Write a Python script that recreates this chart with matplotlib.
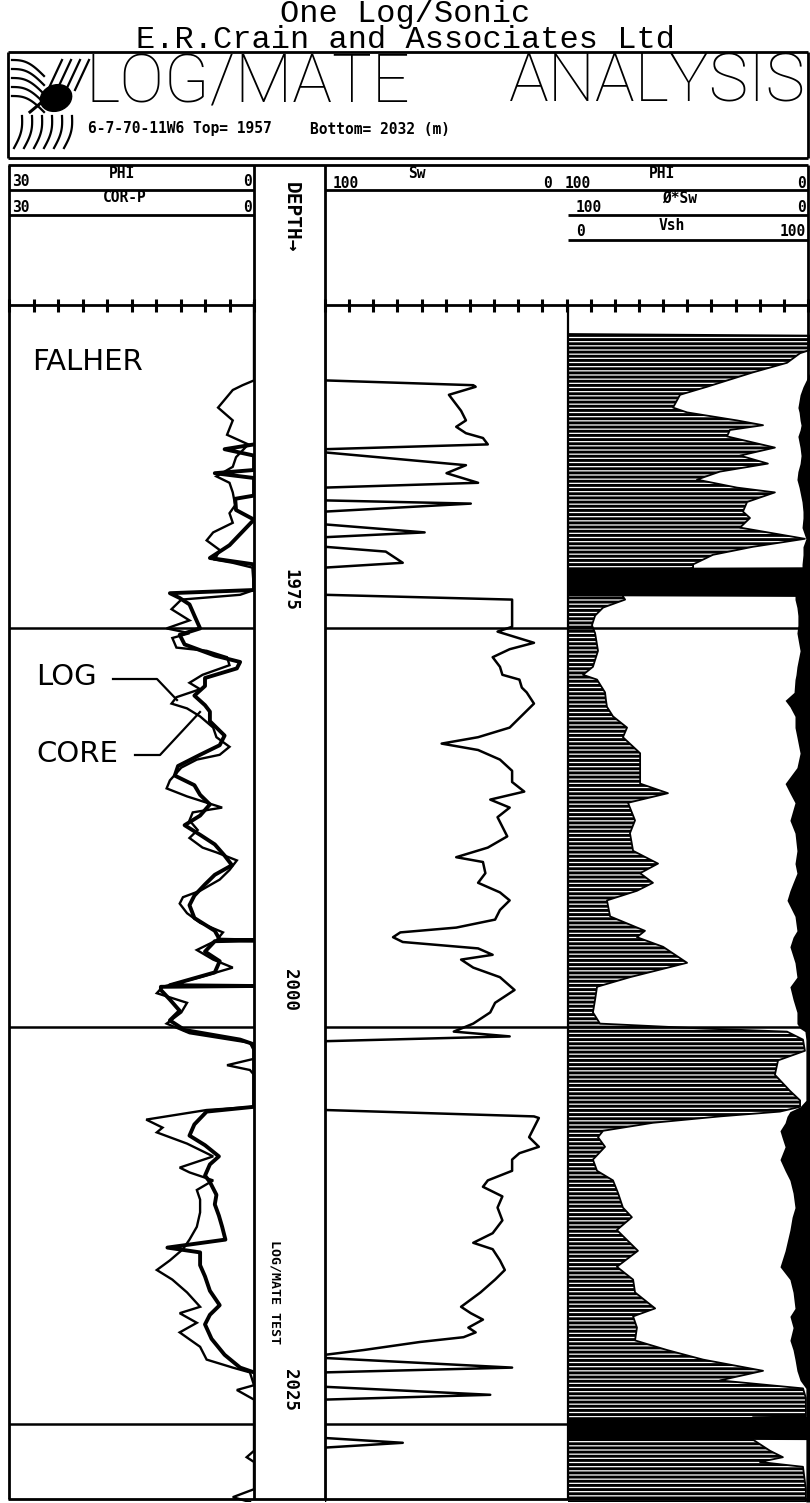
"""LOG/MATE analysis sheet: porosity, water saturation and volume tracks."""

import matplotlib

matplotlib.use("Agg")
import matplotlib.pyplot as plt
import numpy as np
from matplotlib.patches import Ellipse

W, H = 810, 1503
TOP_DEPTH, BOTTOM_DEPTH = 1957, 2032
Y_TOP, Y_BOT = 302, 1502          # pixel rows of the depth window

# ---- data --------------------------------------------------------------
depth_labels = [1975, 2000, 2025]
zone_tops = [1977.4, 2002.3, 2027.1]

# track 2: water saturation (%), 100 at left
sw_depth = [1957.0, 1961.9, 1962.2, 1962.3, 1962.8, 1963.8, 1964.4, 1964.8, 1965.2, 1965.5,
            1965.9, 1966.2, 1966.4, 1967.2, 1967.7, 1968.3, 1968.6, 1969.4, 1969.6, 1970.1,
            1970.9, 1971.4, 1971.7, 1972.3, 1972.6, 1973.3, 1973.6, 1975.3, 1975.6, 1977.3,
            1977.6, 1978.3, 1978.7, 1979.2, 1979.8, 1980.3, 1980.6, 1981.1, 1981.4, 1982.1,
            1982.7, 1983.6, 1984.2, 1984.6, 1985.0, 1985.6, 1986.3, 1987.0, 1987.6, 1988.1,
            1988.6, 1989.2, 1989.8, 1990.4, 1991.1, 1991.7, 1992.0, 1992.7, 1993.3, 1993.9,
            1994.4, 1995.0, 1995.6, 1996.1, 1996.4, 1996.7, 1997.0, 1997.4, 1997.8, 1998.1,
            1998.6, 1999.2, 2000.0, 2000.8, 2001.4, 2002.1, 2002.6, 2002.9, 2003.2,
            2007.5, 2007.9, 2008.0, 2008.6, 2009.2, 2009.8, 2010.2, 2010.6, 2011.3, 2011.9,
            2012.3, 2012.9, 2013.6, 2014.4, 2015.2, 2015.8, 2016.2, 2016.9, 2017.5, 2018.1,
            2018.9, 2019.8, 2020.2, 2020.6, 2021.1, 2021.4, 2021.7, 2022.0, 2022.5, 2022.8,
            2023.0, 2023.6, 2023.9, 2024.8, 2025.3, 2025.6, 2028.0, 2028.3, 2028.6, 2032.0]
sw_values = [100, 100, 39, 38, 49, 44, 42, 46, 42, 35,
             33, 100, 100, 42, 50, 37, 100, 100, 40, 100,
             100, 59, 100, 100, 75, 68, 100, 100, 23, 23,
             29, 14, 24, 31, 28, 27, 20, 19, 17, 14,
             18, 24, 37, 52, 37, 28, 23, 23, 18, 32,
             24, 29, 27, 25, 33, 46, 35, 34, 37, 28,
             24, 28, 30, 46, 69, 72, 68, 37, 31, 44,
             39, 28, 22, 30, 32, 39, 47, 24, 100,
             100, 14, 12, 14, 16, 12, 20, 23, 23, 33,
             35, 27, 29, 27, 31, 39, 31, 28, 26, 30,
             36, 44, 40, 35, 41, 38, 43, 61, 84, 100,
             100, 23, 100, 100, 32, 100, 100, 68, 100, 100]

# track 1: log porosity (%), 30 at left
phi_depth = [1957.0, 1961.9, 1962.2, 1962.5, 1963.6, 1964.4, 1965.3, 1965.9, 1966.7, 1967.3,
             1967.9, 1968.3, 1968.9, 1969.7, 1970.2, 1970.8, 1971.4, 1971.9, 1972.5, 1973.1,
             1973.3, 1973.6, 1975.0, 1975.3, 1975.6, 1976.2, 1976.9, 1977.4,
             1977.7, 1978.0, 1978.6, 1978.8, 1979.2, 1979.7, 1980.3, 1980.8, 1981.2, 1981.7,
             1982.1, 1982.4, 1982.9, 1983.6, 1984.2, 1984.8, 1985.3, 1985.6, 1986.1, 1986.9,
             1987.4, 1987.9, 1988.6, 1988.9, 1989.4, 1990.0, 1990.5, 1991.1, 1991.4, 1991.9,
             1992.5, 1993.1, 1993.8, 1994.2, 1994.6, 1995.2, 1995.8, 1996.4, 1996.9, 1997.5,
             1998.1, 1998.6, 1999.2, 1999.8, 2000.2, 2000.8, 2001.4, 2002.1, 2002.7, 2003.3,
             2003.8,
             2004.3, 2004.7, 2005.0, 2005.3, 2007.3, 2007.5, 2008.1, 2008.6, 2008.9, 2009.6,
             2010.0, 2010.4, 2011.1, 2011.4, 2011.9, 2012.5, 2013.1, 2013.9, 2014.8, 2015.6,
             2016.2, 2016.9, 2017.5, 2018.1, 2018.9, 2019.8, 2020.2, 2020.8, 2021.4, 2022.3,
             2023.1, 2023.6, 2023.9, 2024.7, 2025.0, 2025.6, 2028.8, 2029.2, 2029.5, 2031.2,
             2031.7, 2032.0]
phi_log = [0, 0, 1.4, 2.6, 4.4, 2.6, 3.3, 0.7, 2.2, 2.6,
           4.6, 3.0, 2.6, 2.3, 3.0, 2.6, 5.0, 5.8, 4.2, 4.8,
           2.6, 0.2, 0, 1.7, 8.9, 10.1, 7.9, 10.7,
           7.9, 10.0, 9.5, 5.8, 3.3, 3.0, 6.3, 7.9, 6.6, 9.5,
           10.1, 8.2, 6.6, 5.0, 4.6, 3.0, 4.2, 7.0, 8.9, 10.3,
           10.7, 8.2, 3.9, 7.5, 7.9, 6.9, 7.9, 6.3, 4.6, 2.1,
           3.0, 4.2, 6.6, 8.7, 9.1, 8.2, 6.6, 3.8, 4.6, 7.0,
           5.0, 2.6, 6.6, 11.2, 11.9, 8.2, 8.9, 10.7, 7.9, 0.5,
           0,
           0, 3.3, 0.5, 0, 0, 5.8, 13.2, 11.2, 11.9, 8.2,
           6.6, 5.0, 9.1, 7.9, 5.0, 7.0, 6.6, 6.6, 7.0, 7.9,
           8.7, 10.3, 11.9, 10.0, 8.2, 6.6, 9.1, 7.0, 9.1, 6.6,
           5.8, 2.6, 0.5, 0, 2.1, 0, 0, 0.9, 0, 0,
           2.6, 0.5]

# track 1: core porosity (%)
core_depth = [1965.9, 1966.2, 1966.6, 1967.5, 1967.7, 1968.0, 1969.1, 1969.3, 1970.0, 1970.6,
              1972.2, 1973.0, 1973.4, 1975.0, 1975.2, 1975.5, 1975.9, 1976.6, 1977.4,
              1977.8, 1978.4, 1979.1, 1979.5, 1979.9, 1980.5, 1981.0, 1981.6, 1982.2, 1982.6,
              1983.2, 1984.1, 1984.7, 1985.3, 1986.0, 1986.6, 1987.2, 1987.8, 1988.4, 1989.1,
              1989.7, 1990.3, 1990.9, 1991.6, 1992.2, 1992.8, 1993.4, 1994.1, 1994.7, 1995.5,
              1996.3, 1996.85, 1996.9, 1996.95, 1997.6, 1998.2, 1998.9, 1999.7, 1999.75, 1999.8,
              2000.0, 2000.6, 2001.3, 2001.9, 2002.5, 2003.1, 2003.4,
              2007.3, 2007.6, 2008.4, 2009.1, 2009.7, 2010.4, 2010.9, 2011.6, 2012.0, 2012.8,
              2013.4, 2014.1, 2014.8, 2015.6, 2016.1, 2016.4, 2017.2, 2017.9, 2018.8, 2019.7,
              2020.3, 2020.9, 2021.8, 2022.8, 2023.6, 2023.9]
core_phi = [0, 3.6, 0, 0, 4.8, 0, 0, 2.3, 2.2, 0,
            3.0, 5.4, 0, 0, 10.3, 9.1, 7.9, 7.3, 6.6,
            9.1, 8.5, 4.8, 1.7, 2.1, 6.0, 6.0, 7.3, 6.0, 5.4,
            5.4, 3.6, 4.2, 6.6, 9.3, 9.7, 7.3, 6.6, 5.4, 6.6,
            8.5, 6.6, 4.8, 3.6, 2.7, 4.8, 6.0, 7.3, 7.9, 7.3,
            4.8, 4.2, 0, 4.8, 6.0, 4.2, 4.8, 10.3, 0, 11.4,
            11.4, 10.3, 9.1, 10.3, 8.5, 1.7, 0,
            0, 5.8, 7.3, 7.9, 6.0, 4.3, 5.4, 6.0, 5.4, 4.6,
            4.8, 4.3, 3.9, 3.5, 10.6, 6.6, 6.6, 6.0, 5.4, 4.2,
            5.4, 6.0, 5.2, 3.6, 1.7, 0]

# track 3: hatched volume edge (100 at left) and shale width from the right (%)
t3_depth = [1957.0, 1959.0, 1959.1, 1960.0, 1960.2, 1960.8, 1961.4, 1962.3, 1962.8, 1963.6,
            1963.9, 1964.4, 1964.7, 1965.0, 1965.4, 1966.1, 1966.6, 1967.1, 1967.6, 1968.1,
            1968.6, 1968.9, 1969.5, 1970.1, 1970.5, 1971.1, 1971.8, 1972.3, 1972.8, 1973.4,
            1973.55, 1973.6, 1975.35, 1975.4, 1975.6, 1976.1, 1976.6, 1977.2, 1977.7, 1978.8,
            1979.8, 1980.3, 1980.6, 1981.4, 1981.9, 1982.3, 1982.9, 1983.6, 1984.2, 1985.2,
            1986.1, 1987.1, 1987.7, 1988.3, 1989.4, 1990.2, 1991.3, 1992.1, 1992.7, 1993.3,
            1993.8, 1994.4, 1995.4, 1996.3, 1996.7, 1997.3, 1998.3, 1999.2, 1999.8, 2000.6,
            2001.4, 2002.1, 2002.4, 2002.6, 2003.1, 2003.8, 2004.4, 2005.3, 2006.3, 2006.9,
            2007.3, 2007.6, 2007.9, 2008.3, 2008.8, 2009.2, 2009.8, 2010.6, 2011.3, 2011.9,
            2012.7, 2013.6, 2014.2, 2015.0, 2016.3, 2017.3, 2018.1, 2018.9, 2019.9, 2020.4,
            2021.1, 2021.9, 2022.5, 2023.1, 2023.8, 2024.4, 2024.9, 2025.5, 2026.65, 2026.7,
            2028.05, 2028.1, 2028.8, 2029.2, 2029.5, 2029.8, 2031.2, 2032.0]
t3_phi = [100, 100, 0, 0, 4.1, 9.5, 23.6, 42.6, 53.7, 56.6,
          50.8, 30.2, 19.4, 33.1, 34.3, 14.5, 28.9, 17.4, 37.2, 46.7,
          30.2, 14.5, 26.0, 27.7, 24.8, 28.9, 2.1, 23.6, 40.1, 48.3,
          48.3, 48.3, 77.3, 77.3, 76.4, 85.5, 88.8, 90.1, 88.8, 87.6,
          89.7, 93.8, 88.0, 84.7, 84.3, 83.9, 81.4, 75.6, 77.3, 70.2,
          70.2, 70.2, 58.7, 75.2, 72.3, 74.4, 73.1, 62.8, 70.2, 64.9,
          71.5, 83.9, 82.6, 68.2, 71.5, 60.7, 50.8, 74.4, 88.0, 88.8,
          89.7, 86.8, 45.5, 9.5, 2.9, 2.1, 13.2, 14.5, 8.3, 4.1,
          4.1, 12.4, 37.2, 64.9, 85.5, 87.6, 84.7, 89.7, 88.0, 81.4,
          79.3, 77.3, 73.6, 79.8, 71.1, 79.8, 73.1, 72.3, 64.0, 73.1,
          71.5, 72.3, 59.1, 44.2, 19.4, 37.2, 2.9, 1.7, 1.7, 23.6,
          23.6, 23.6, 16.5, 11.2, 20.7, 2.9, 1.7, 1.7]
t3_vsh = [0, 0, 0, 0, 0, 0, 0, 2.9, 4.1, 5.0,
          4.5, 4.1, 3.7, 4.1, 5.0, 4.1, 3.7, 4.1, 5.0, 5.4,
          4.5, 4.1, 3.3, 2.9, 2.9, 3.3, 1.7, 2.9, 2.9, 3.3,
          3.3, 100, 100, 6.2, 6.2, 5.4, 5.0, 5.0, 5.4, 4.1,
          5.4, 5.8, 6.2, 6.6, 10.3, 8.3, 6.2, 6.2, 5.4, 4.1,
          5.4, 10.3, 8.3, 6.2, 8.3, 6.2, 5.4, 6.2, 5.4, 7.0,
          8.3, 9.5, 6.2, 5.4, 7.0, 8.3, 6.2, 5.4, 8.3, 7.0,
          5.4, 5.4, 4.1, 2.1, 1.7, 1.7, 1.7, 1.7, 1.7, 1.7,
          4.1, 8.3, 9.5, 10.3, 12.4, 11.6, 10.3, 12.4, 10.3, 8.3,
          7.0, 6.2, 7.4, 8.3, 10.3, 12.4, 8.3, 7.0, 6.2, 8.3,
          7.0, 8.3, 7.0, 6.2, 5.4, 4.1, 1.7, 1.7, 1.7, 100,
          100, 1.7, 1.7, 1.7, 1.7, 1.7, 1.7, 1.7]

MONO = "DejaVu Sans Mono"
PLOTTER = "Liberation Mono"
plt.rcParams["hatch.color"] = "black"
plt.rcParams["hatch.linewidth"] = 2.1

fig = plt.figure(figsize=(W / 100, H / 100), dpi=100)
fig.patch.set_facecolor("white")


def track_axes(x0, x1, xlim):
    ax = fig.add_axes([x0 / W, 1 - Y_BOT / H, (x1 - x0) / W, (Y_BOT - Y_TOP) / H])
    ax.set_xlim(*xlim)
    ax.set_ylim(BOTTOM_DEPTH, TOP_DEPTH)
    ax.axis("off")
    return ax


ax1 = track_axes(9, 254, (30, 0))
axd = track_axes(254, 325, (0, 1))
ax2 = track_axes(325, 568, (100, 0))
ax3 = track_axes(568, 810, (100, 0))

# track 3 shading
ax3.fill_betweenx(t3_depth, t3_phi, 100, facecolor="white", edgecolor="black",
                  hatch="----", linewidth=0)
ax3.plot(t3_phi, t3_depth, color="black", lw=1.3)
ax3.fill_betweenx(t3_depth, 0, t3_vsh, color="black", linewidth=0)

# curves
ax1.plot(phi_log, phi_depth, color="black", lw=1.7, solid_joinstyle="miter")
ax1.plot(core_phi, core_depth, color="black", lw=2.8)
ax2.plot(sw_values, sw_depth, color="black", lw=1.8)

for ax in (ax1, ax2, ax3):
    for d in zone_tops:
        ax.axhline(d, color="black", lw=1.8)

for d in depth_labels:
    axd.text(0.51, d, str(d), rotation=-90, ha="center", va="center",
             family=MONO, fontweight="bold", fontsize=12.5)
axd.text(0.29, 2018.9, "LOG/MATE TEST", rotation=-90, ha="center", va="center",
         family=MONO, fontweight="bold", fontsize=9.5)

# ---- overlay in pixel space: frame, header, annotations -----------------
ov = fig.add_axes([0, 0, 1, 1])
ov.set_xlim(0, W)
ov.set_ylim(H, 0)
ov.axis("off")

LW = 2.0
def hline(y, x0, x1, lw=LW):
    ov.plot([x0, x1], [y, y], color="black", lw=lw, solid_capstyle="butt")

def vline(x, y0, y1, lw=LW):
    ov.plot([x, x], [y0, y1], color="black", lw=lw, solid_capstyle="butt")

ov.text(405, 27, "One Log/Sonic\nE.R.Crain and Associates Ltd", ha="center", va="center",
        multialignment="center", linespacing=0.82, family=PLOTTER, fontsize=23)

# title block
hline(52, 8, 808)
hline(158, 8, 808)
vline(8, 52, 158)
vline(808, 52, 158)
ov.text(86, 84, "LOG/MATE", ha="left", va="center", family=["Roboto", "DejaVu Sans"],
        fontweight="light", fontsize=48)
ov.text(806, 84, "ANALYSIS", ha="right", va="center", family=["Roboto", "DejaVu Sans"],
        fontweight="light", fontsize=48)
ov.text(88, 129, "6-7-70-11W6 Top= 1957", ha="left", va="center", family=MONO,
        fontweight="bold", fontsize=10.5)
ov.text(310, 129, "Bottom= 2032 (m)", ha="left", va="center", family=MONO,
        fontweight="bold", fontsize=10.5)

# logo: swirl strokes and a black blob
t = np.linspace(0, 1, 20)
for k in range(6):
    x0 = 14 + k * 10
    ov.plot(x0 + 8 * t + 3 * np.sin(np.pi * t), 148 - 32 * t, color="black", lw=1.6)
for k in range(5):
    y0 = 60 + k * 9
    ov.plot(12 + 32 * t, y0 + 16 * t - 5 * np.sin(np.pi * t), color="black", lw=1.6)
for k in range(4):
    x0 = 48 + k * 9
    ov.plot(x0 + 14 * t, 90 - 30 * t, color="black", lw=1.6)
ov.add_patch(Ellipse((56, 98), 32, 26, angle=-20, color="black"))
ov.plot([42, 30], [102, 112], color="black", lw=2.2)

# track frames
hline(165, 8, 808)
vline(9, 165, 1499)
vline(254, 165, 1499)
vline(325, 165, 1499)
vline(808, 165, 1499)
vline(568, 305, 1499, lw=1.6)
hline(1499, 8, 808)
hline(190, 9, 254)
hline(190, 325, 808)
hline(215, 9, 254)
hline(215, 568, 808)
hline(240, 568, 808)
hline(305, 9, 254)
hline(305, 325, 808)
for x in np.linspace(9, 254, 11):
    vline(x, 299, 312, lw=2.2)
for x in np.linspace(325, 808, 21):
    vline(x, 299, 312, lw=2.2)

hdr = dict(family=MONO, fontweight="bold", fontsize=10.5, va="center")
ov.text(12, 182, "30", ha="left", **hdr)
ov.text(122, 173, "PHI", ha="center", **hdr)
ov.text(252, 182, "0", ha="right", **hdr)
ov.text(12, 207, "30", ha="left", **hdr)
ov.text(125, 198, "COR-P", ha="center", **hdr)
ov.text(252, 207, "0", ha="right", **hdr)
ov.text(291, 217, "DEPTH\u2192", rotation=-90, ha="center", family=MONO,
        fontweight="bold", fontsize=14, va="center")
ov.text(333, 183, "100", ha="left", **hdr)
ov.text(417, 173, "Sw", ha="center", **hdr)
ov.text(552, 183, "0", ha="right", **hdr)
ov.text(565, 183, "100", ha="left", **hdr)
ov.text(662, 173, "PHI", ha="center", **hdr)
ov.text(806, 183, "0", ha="right", **hdr)
ov.text(576, 208, "100", ha="left", **hdr)
ov.text(680, 198, "\u00d8*Sw", ha="center", **hdr)
ov.text(806, 208, "0", ha="right", **hdr)
ov.text(576, 232, "0", ha="left", **hdr)
ov.text(672, 225, "Vsh", ha="center", **hdr)
ov.text(806, 232, "100", ha="right", **hdr)

# track 1 annotations
note = dict(family="DejaVu Sans", fontsize=21, va="center", ha="left")
ov.text(32, 362, "FALHER", **note)
ov.text(36, 677, "LOG", **note)
ov.text(36, 754, "CORE", **note)
ov.plot([113, 157, 177], [679, 679, 700], color="black", lw=1.6)
ov.plot([135, 160, 200], [755, 755, 712], color="black", lw=1.6)

fig.savefig("out.png", dpi=100, facecolor="white")
